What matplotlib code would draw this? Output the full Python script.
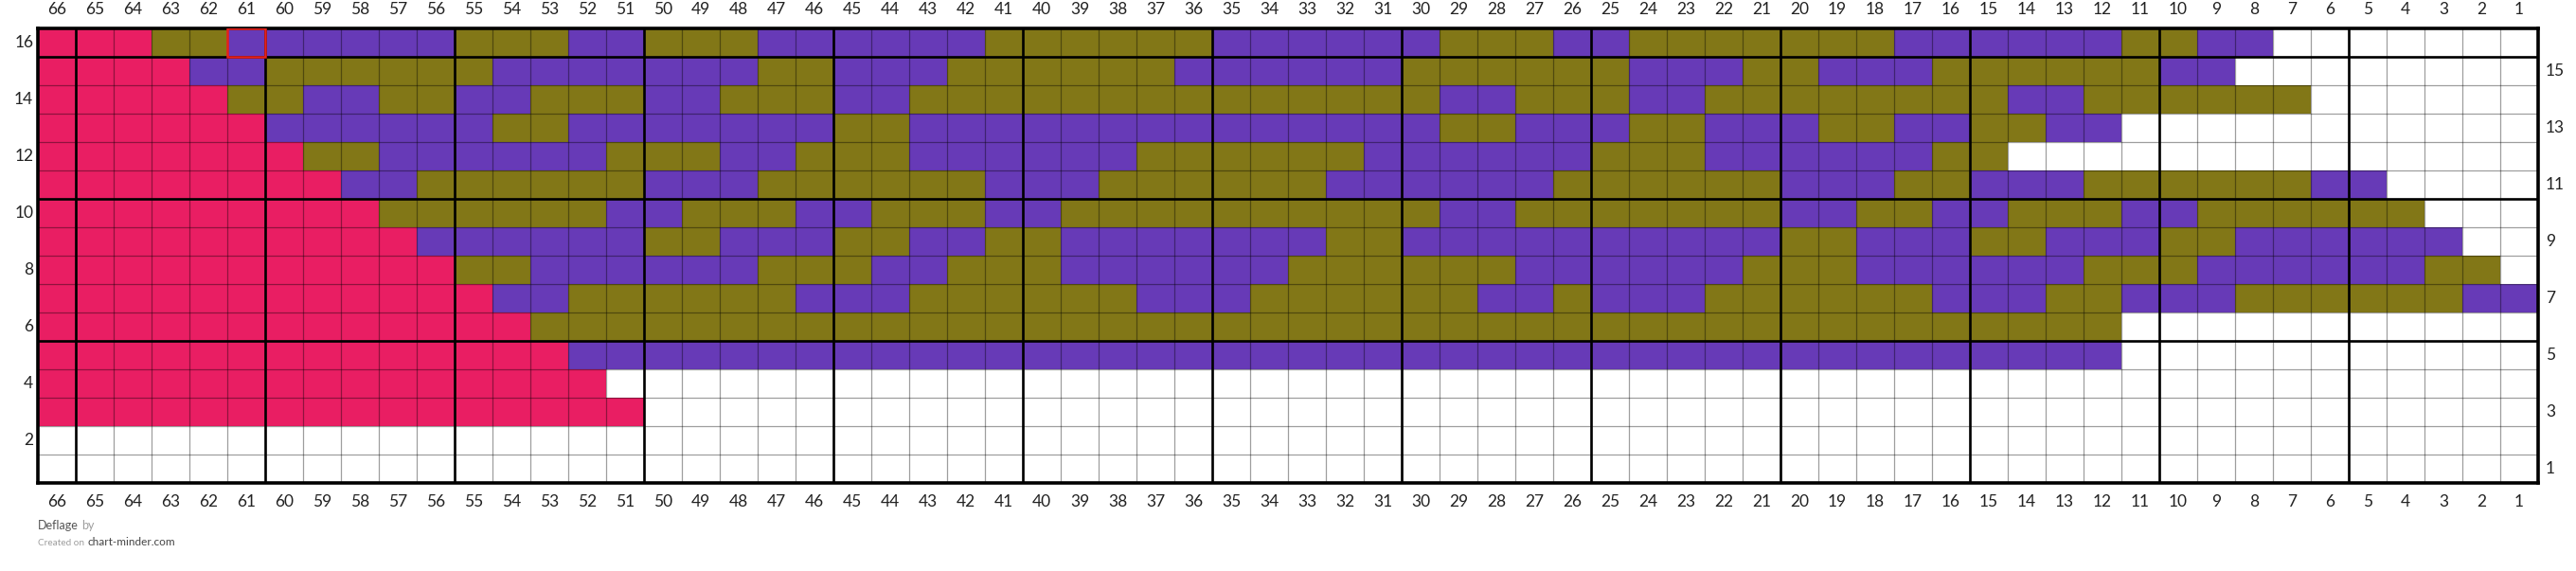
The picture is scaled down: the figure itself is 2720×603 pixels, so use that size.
import numpy as np
import matplotlib
matplotlib.use("Agg")
import matplotlib.pyplot as plt
from matplotlib.colors import ListedColormap
from matplotlib.patches import Rectangle

plt.rcParams['font.family'] = ['Lato', 'DejaVu Sans']

# stitch colours, R = pink, G = olive, P = purple, W = empty
codes = "WRGP"
colours = ['#ffffff', '#e91e63', '#827717', '#673ab7']

# runs of stitches per row, read from column 66 (left) to column 1 (right)
row16 = "R3 G2 P6 G3 P2 G3 P6 G6 P6 G3 P2 G7 P6 G2 P2 W7"
row15 = "R4 P2 G6 P7 G2 P3 G6 P6 G6 P3 G2 P3 G6 P2 W8"
row14 = "R5 G2 P2 G2 P2 G3 P2 G3 P2 G14 P2 G3 P2 G8 P2 G6 W6"
row13 = "R6 P6 G2 P7 G2 P14 G2 P3 G2 P3 G2 P2 G2 P2 W11"
row12 = "R7 G2 P6 G3 P2 G3 P6 G6 P6 G3 P6 G2 W14"
row11 = "R8 P2 G6 P3 G6 P3 G6 P6 G6 P3 G2 P3 G6 P2 W4"
row10 = "R9 G6 P2 G3 P2 G3 P2 G10 P2 G7 P2 G2 P2 G3 P2 G6 W3"
row9 = "R10 P6 G2 P3 G2 P2 G2 P7 G2 P10 G2 P3 G2 P3 G2 P6 W2"
row8 = "R11 G2 P6 G3 P2 G3 P6 G6 P6 G3 P6 G3 P6 G2 W1"
row7 = "R12 P2 G6 P3 G6 P3 G6 P2 G1 P3 G6 P3 G2 P3 G6 P2"
row6 = "R13 G42 W11"
row5 = "R14 P41 W11"
row4 = "R15 W51"
row3 = "R16 W50"
row2 = "W66"
row1 = "W66"

rows = [row1, row2, row3, row4, row5, row6, row7, row8,
        row9, row10, row11, row12, row13, row14, row15, row16]
n_cols = 66
n_rows = 16
col_labels = [str(c) for c in range(n_cols, 0, -1)]
row_labels = [str(r) for r in range(1, n_rows + 1)]
highlight_col = 61
highlight_row = 16


def expand(runs):
    out = []
    for tok in runs.split():
        out += [codes.index(tok[0])] * int(tok[1:])
    return out


grid = np.array([expand(r) for r in rows])

fig = plt.figure(figsize=(27.2, 6.03), dpi=100)
W, H = 2720, 603
ax = fig.add_axes([40 / W, (H - 510) / H, 2640 / W, 480 / H])

ax.pcolormesh(np.arange(n_cols + 1), np.arange(n_rows + 1), grid,
              cmap=ListedColormap(colours), vmin=-0.5, vmax=3.5)

# thin cell lines
ax.vlines(np.arange(1, n_cols), 0, n_rows, color=(0, 0, 0, 0.38), lw=0.9)
ax.hlines(np.arange(1, n_rows), 0, n_cols, color=(0, 0, 0, 0.38), lw=0.9)
# heavy lines every five stitches / rows
ax.vlines(np.arange(1, n_cols, 5), 0, n_rows, color='black', lw=1.9)
ax.hlines([5, 10, 15], 0, n_cols, color='black', lw=1.9)

hx = n_cols - highlight_col
ax.add_patch(Rectangle((hx, highlight_row - 1), 1, 1, fill=False,
                       edgecolor='#e8201c', lw=1.8, zorder=5))

ax.set_xlim(0, n_cols)
ax.set_ylim(0, n_rows)
ax.set_xticks([])
ax.set_yticks([])
for s in ax.spines.values():
    s.set_linewidth(2.6)
    s.set_color('black')

for i, lab in enumerate(col_labels):
    ax.text(i + 0.5, n_rows + 0.66, lab, ha='center', va='center',
            fontsize=12.5, color='#222222', clip_on=False)
    ax.text(i + 0.5, -0.68, lab, ha='center', va='center',
            fontsize=12.5, color='#222222', clip_on=False)

for r, lab in enumerate(row_labels, start=1):
    if r % 2 == 0:
        ax.text(-0.12, r - 0.5, lab, ha='right', va='center',
                fontsize=12.5, color='#222222', clip_on=False)
    else:
        ax.text(n_cols + 0.2, r - 0.5, lab, ha='left', va='center',
                fontsize=12.5, color='#222222', clip_on=False)

# footer
renderer = fig.canvas.get_renderer()


def chain(parts, x, y):
    for txt, size, col in parts:
        t = fig.text(x, y, txt, fontsize=size, color=col, ha='left', va='center')
        bb = t.get_window_extent(renderer)
        x = bb.x1 / W + 3 / W


chain([("Deflage", 9, '#555555'), ("by", 9, '#9e9e9e')], 40 / W, 1 - 555 / H)
chain([("Created on", 7.2, '#9e9e9e'), ("chart-minder.com", 8.5, '#444444')],
      40 / W, 1 - 573 / H)

fig.savefig("out.png", dpi=100)
